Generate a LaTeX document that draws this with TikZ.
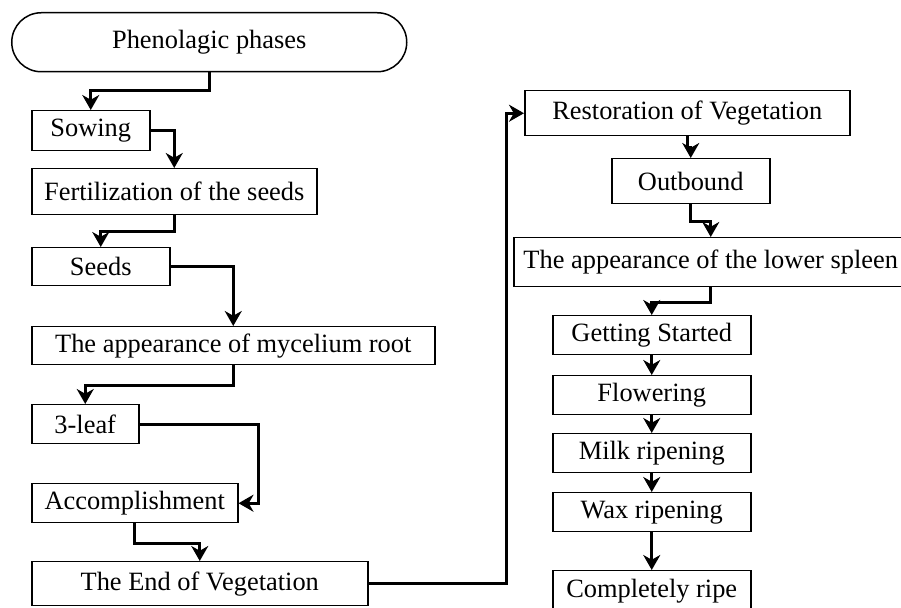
\documentclass[tikz,border=0pt]{standalone}
\usepackage{fontspec}
\setmainfont{Liberation Serif}
\usetikzlibrary{arrows.meta}
\begin{document}
\begin{tikzpicture}[x=0.5pt,y=-0.5pt,
	every node/.style={draw,line width=0.75pt,inner sep=0pt,anchor=north west,
		font=\fontsize{13.2}{15}\selectfont},
	stage/.style={minimum width=99pt,minimum height=19.5pt},
	arr/.style={line width=1.7pt,-{Stealth[length=7.5pt,width=8.5pt,inset=2.4pt]}}]
\clip (0,0) rectangle (901,608);
% left column
\node[rounded corners=14.75pt,minimum width=197.5pt,minimum height=29.5pt] (phases) at (11,12) {Phenolagic phases};
\node[minimum width=59pt,minimum height=20pt] (sowing) at (31,110) {Sowing};
\node[minimum width=142.5pt,minimum height=23pt] (fert) at (31,168) {Fertilization of the seeds};
\node[minimum width=69pt,minimum height=19pt] (seeds) at (31,247) {Seeds};
\node[minimum width=201.5pt,minimum height=19pt] (root) at (31,326) {The appearance of mycelium root};
\node[minimum width=53.5pt,minimum height=19.5pt] (leaf) at (31,404) {3-leaf};
\node[minimum width=103pt,minimum height=19.5pt] (accomp) at (31,483) {Accomplishment};
\node[minimum width=168pt,minimum height=22pt] (endveg) at (31,561) {The End of Vegetation};
% right column
\node[minimum width=162.5pt,minimum height=22.5pt] (restore) at (524,90) {Restoration of Vegetation};
\node[minimum width=79pt,minimum height=22.5pt] (outbound) at (611,158) {Outbound};
\node[minimum width=197pt,minimum height=24.5pt] (spleen) at (513,237) {The appearance of the lower spleen};
\node[stage] (start) at (552,315) {Getting Started};
\node[stage] (flower) at (552,375) {Flowering};
\node[stage] (milk) at (552,433) {Milk ripening};
\node[stage] (wax) at (552,492) {Wax ripening};
\node[stage,minimum height=20pt] (ripe) at (552,570) {Completely ripe};
% connectors
\draw[arr] (phases.south) -- ++(0,18) -| (sowing.north);
\draw[arr] (sowing.east) -| (fert.north);
\draw[arr] (fert.south) -- ++(0,16) -| (seeds.north);
\draw[arr] (seeds.east) -| (root.north);
\draw[arr] (root.south) -- ++(0,20) -| (leaf.north);
\draw[arr] (leaf.east) -- ++(119,0) |- (accomp.east);
\draw[arr] (accomp.south) -- ++(0,20) -| (endveg.north);
\draw[arr] (endveg.east) -- ++(138,0) |- (restore.west);
\draw[arr] (restore.south) -- ++(0,11) -| (outbound.north);
\draw[arr] (outbound.south) -- ++(0,17) -| (spleen.north);
\draw[arr] (spleen.south) -- ++(0,15) -| (start.north);
\draw[arr] (start) -- (flower);
\draw[arr] (flower) -- (milk);
\draw[arr] (milk) -- (wax);
\draw[arr] (wax) -- (ripe);
\end{tikzpicture}
\end{document}
